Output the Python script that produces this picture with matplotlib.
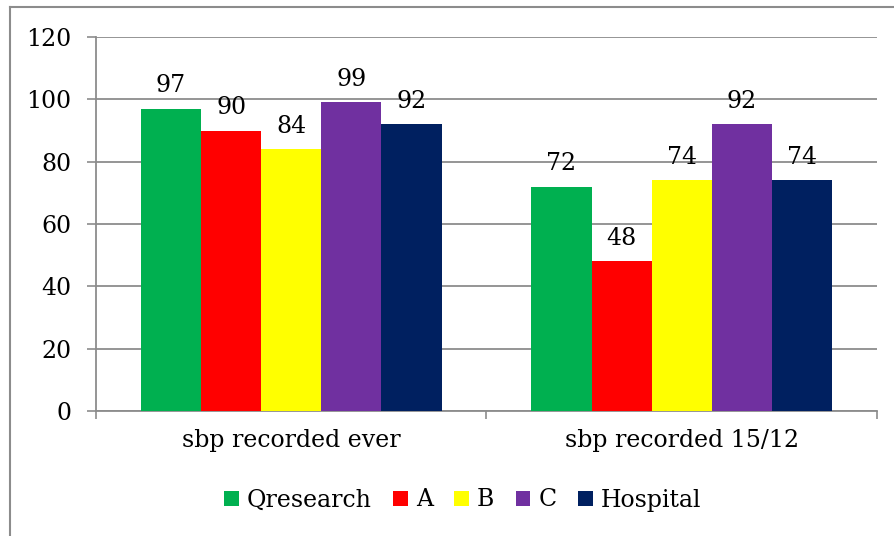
import matplotlib.pyplot as plt
import numpy as np
from matplotlib.lines import Line2D

# data
categories = ['sbp recorded ever', 'sbp recorded 15/12']
series = ['Qresearch', 'A', 'B', 'C', 'Hospital']
values = [
    [97, 72],   # Qresearch
    [90, 48],   # A
    [84, 74],   # B
    [99, 92],   # C
    [92, 74],   # Hospital
]
colors = ['#00B050', '#FF0000', '#FFFF00', '#7030A0', '#002060']
y_ticks = [0, 20, 40, 60, 80, 100, 120]

plt.rcParams['font.family'] = ['DejaVu Serif']
fs = 17

fig = plt.figure(figsize=(8.95, 5.36), dpi=100)
ax = fig.add_axes([96 / 895, 1 - 411 / 536, (877 - 96) / 895, (411 - 37) / 536])

x = np.arange(len(categories))
width = 0.77 / len(series)
for i, name in enumerate(series):
    pos = x - 0.385 + width * (i + 0.5)
    ax.bar(pos, values[i], width, color=colors[i], label=name, zorder=3)
    for xp, v in zip(pos, values[i]):
        ax.annotate(str(v), (xp, v), xytext=(0, 12), textcoords='offset points',
                    ha='center', va='baseline', fontsize=fs, zorder=4)

ax.set_xlim(-0.5, 1.5)
ax.set_ylim(0, 120)
ax.set_yticks(y_ticks)
ax.tick_params(axis='y', labelsize=fs, length=6.5, width=1.2, color='#8c8c8c', pad=11)
ax.yaxis.grid(True, color='#8c8c8c', linewidth=1.3, zorder=0)

ax.set_xticks(x)
ax.set_xticklabels(categories)
ax.tick_params(axis='x', which='major', length=0, labelsize=fs, pad=13)
ax.set_xticks([-0.5, 0.5, 1.5], minor=True)
ax.tick_params(axis='x', which='minor', length=6, width=1.2, color='#8c8c8c')

for s in ['top', 'right']:
    ax.spines[s].set_visible(False)
for s in ['left', 'bottom']:
    ax.spines[s].set_color('#8c8c8c')
    ax.spines[s].set_linewidth(1.3)

# chart area border (left and top visible, rest runs off the image)
fig.add_artist(Line2D([10 / 895, 10 / 895], [0, 1 - 7 / 536], color='#8c8c8c', lw=1.5))
fig.add_artist(Line2D([10 / 895, 1], [1 - 7 / 536, 1 - 7 / 536], color='#8c8c8c', lw=1.5))

fig.legend(loc='center', bbox_to_anchor=(0.517, 1 - 500 / 536), ncol=5, frameon=False,
           fontsize=fs, handlelength=0.62, handleheight=0.62, handletextpad=0.35,
           columnspacing=0.9)

plt.savefig('out.png', dpi=100)
